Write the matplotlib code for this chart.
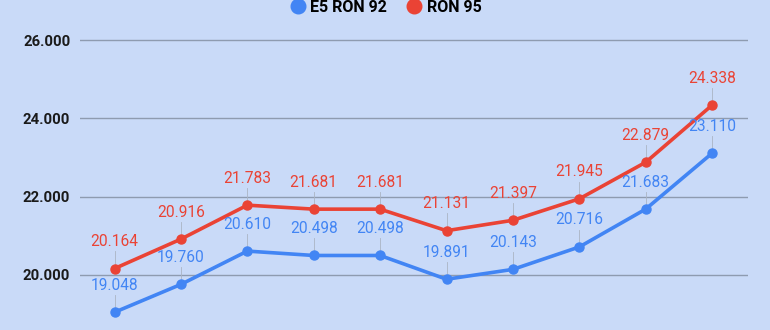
import matplotlib
matplotlib.use("Agg")
import matplotlib.pyplot as plt
from matplotlib.lines import Line2D

series_names = ["E5 RON 92", "RON 95"]
e5_ron92 = [19048, 19760, 20610, 20498, 20498, 19891, 20143, 20716, 21683, 23110]
ron95 = [20164, 20916, 21783, 21681, 21681, 21131, 21397, 21945, 22879, 24338]
y_ticks = [20000, 22000, 24000, 26000]
colors = ["#4285f4", "#ea4335"]
bg = "#c9daf8"

def fmt(v):
    return f"{v:,}".replace(",", ".")

plt.rcParams['font.family'] = ['Roboto', 'DejaVu Sans']
fig = plt.figure(figsize=(7.7, 3.3), dpi=100, facecolor=bg)
ax = fig.add_axes([80/770, 0, 668/770, 1])
ax.set_facecolor(bg)
x = list(range(len(e5_ron92)))
ax.set_xlim(-0.52, len(x) - 1 + 0.54)
ax.set_ylim(18595, 27022)

for yt in y_ticks:
    ax.axhline(yt, color="#8e9bb0", lw=1.0, zorder=1)

px_per_unit = 330 / (27022 - 18595)
off = 27 / px_per_unit
for vals, c in zip([e5_ron92, ron95], colors):
    ax.plot(x, vals, color=c, lw=2.6, marker="o", ms=6.5, zorder=4, solid_capstyle="round")
    for xi, v in zip(x, vals):
        ax.plot([xi, xi], [v, v + off - 250], color="#aab4c4", lw=0.6, zorder=2)
        ax.text(xi, v + off, fmt(v), color=c, fontsize=11.2, ha="center", va="center", zorder=5)

ax.set_yticks(y_ticks)
ax.set_yticklabels([fmt(t) for t in y_ticks], fontsize=10.7, fontweight="bold", color="#1a1a1a")
ax.tick_params(axis="y", length=0, pad=7)
ax.set_xticks([])
for s in ax.spines.values():
    s.set_visible(False)

handles = [Line2D([], [], marker="o", ls="", color=c, ms=10.5) for c in colors]
fig.legend(handles, series_names, loc="center", bbox_to_anchor=(0.501, 0.978), ncol=2,
           frameon=False, prop={"weight": "bold", "size": 11.5}, handletextpad=0.3,
           columnspacing=1.2, handlelength=1.0, borderpad=0)

fig.savefig("out.png", dpi=100, facecolor=bg)
